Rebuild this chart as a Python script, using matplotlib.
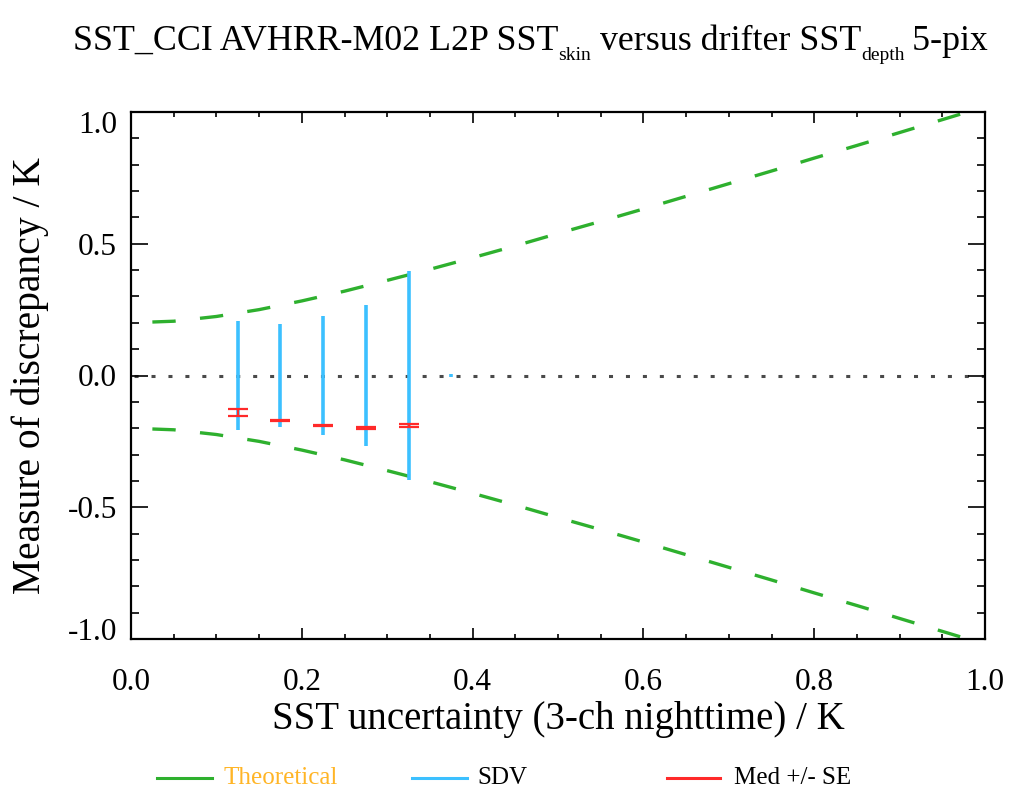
import numpy as np
import matplotlib
matplotlib.use("Agg")
import matplotlib.pyplot as plt
from matplotlib.lines import Line2D
from matplotlib.ticker import MultipleLocator, FixedLocator, FixedFormatter

plt.rcParams['font.family'] = ['Liberation Serif', 'DejaVu Serif']
plt.rcParams['lines.scale_dashes'] = False

# ---- data ----
theory_x = [0.00, 0.05, 0.10, 0.15, 0.20, 0.25, 0.30, 0.35, 0.40, 0.45, 0.50,
            0.55, 0.60, 0.65, 0.70, 0.75, 0.80, 0.85, 0.90, 0.95, 1.00]
theory_y = [0.200, 0.206, 0.224, 0.250, 0.283, 0.320, 0.361, 0.403, 0.447, 0.492, 0.539,
            0.585, 0.632, 0.680, 0.728, 0.776, 0.825, 0.873, 0.922, 0.971, 1.020]
unc_bins = [0.125, 0.175, 0.225, 0.275, 0.325, 0.375]
sdv = [0.208, 0.195, 0.225, 0.268, 0.398, 0.004]
med = [-0.141, -0.170, -0.190, -0.200, -0.190, np.nan]
se = [0.013, 0.003, 0.003, 0.003, 0.005, np.nan]

xticks = [0.0, 0.2, 0.4, 0.6, 0.8, 1.0]
xticklabels = ['0.0', '0.2', '0.4', '0.6', '0.8', '1.0']
yticks = [-1.0, -0.5, 0.0, 0.5, 1.0]
yticklabels = ['', '-0.5', '0.0', '0.5', '']

GREEN = '#2eb02e'
BLUE = '#3cc0ff'
RED = '#ff2a2a'
ORANGE = '#ffb526'

W, H = 1009, 787
fig = plt.figure(figsize=(W / 100, H / 100), dpi=100)
L, R, T, B = 131, 985, 112, 639
ax = fig.add_axes([L / W, 1 - B / H, (R - L) / W, (B - T) / H])
ax.set_xlim(0, 1)
ax.set_ylim(-1, 1)

ty = np.array(theory_y)
dash = (19, (16.8, 17.6))
ax.plot(theory_x, ty, color=GREEN, lw=2.4, linestyle=dash, zorder=2)
ax.plot(theory_x, -ty, color=GREEN, lw=2.4, linestyle=dash, zorder=2)

ax.axhline(0, color='#4a4a4a', lw=2.2, linestyle=(10, (2.9, 9.3)), zorder=1)

sd = np.array(sdv)
ax.vlines(unc_bins, -sd, sd, colors=BLUE, lw=2.6, zorder=3)
ax.errorbar(unc_bins, med, yerr=se, fmt='none', ecolor=RED, elinewidth=1.5,
            capsize=7, capthick=1.6, zorder=4)

# ticks
ax.xaxis.set_major_locator(FixedLocator(xticks))
ax.xaxis.set_major_formatter(FixedFormatter(xticklabels))
ax.xaxis.set_minor_locator(MultipleLocator(0.05))
ax.yaxis.set_major_locator(FixedLocator(yticks))
ax.yaxis.set_major_formatter(FixedFormatter(yticklabels))
ax.yaxis.set_minor_locator(MultipleLocator(0.1))
ax.tick_params(axis='both', which='both', direction='in', top=True, right=True,
               width=1.2, color='black')
ax.tick_params(axis='x', which='major', length=7.6, pad=21, labelsize=22.5)
ax.tick_params(axis='x', which='minor', length=3.6)
ax.tick_params(axis='y', which='major', length=12.2, pad=10, labelsize=22.5)
ax.tick_params(axis='y', which='minor', length=6.1)
for s in ax.spines.values():
    s.set_linewidth(1.6)

# end labels of y axis (IDL places them inside the range)
ax.annotate('1.0', xy=(0, 1.0), xycoords=('axes fraction', 'data'),
            xytext=(-10, -9.5), textcoords='offset points', ha='right', va='center',
            fontsize=22.5)
ax.annotate('-1.0', xy=(0, -1.0), xycoords=('axes fraction', 'data'),
            xytext=(-10, 4.5), textcoords='offset points', ha='right', va='center',
            fontsize=22.5)

ax.set_xlabel('SST uncertainty (3-ch nighttime) / K', fontsize=28, va='center')
ax.xaxis.set_label_coords(0.5, (B - 720) / (B - T))
ax.set_ylabel('Measure of discrepancy / K', fontsize=28.5, va='center')
ax.yaxis.set_label_coords((30 - L) / (R - L), 0.5)

# title built from pieces (subscripts lowered)
main_fs = 25.8
sub_fs = 14
pieces = [('SST_CCI AVHRR-M02 L2P SST', main_fs, 0),
          ('skin', sub_fs, -10),
          (' versus drifter SST', main_fs, 0),
          ('depth', sub_fs, -10),
          ('\u2009' + '5-pix', main_fs, 0)]
renderer = fig.canvas.get_renderer()
base_y = 1 - 50 / H
texts = []
widths = []
for s, fs, dy in pieces:
    t = fig.text(0, base_y + dy / H, s, fontsize=fs, ha='left', va='baseline')
    bb = t.get_window_extent(renderer=renderer)
    texts.append(t)
    widths.append(bb.width)
total = sum(widths)
x0 = 530 - total / 2
for t, w in zip(texts, widths):
    t.set_x(x0 / W)
    x0 += w

# legend
ly = 1 - 778 / H
for (x1, x2), col, tx, lab, tcol in [((157, 212), GREEN, 223, 'Theoretical', ORANGE),
                                     ((412, 467), BLUE, 477, 'SDV', 'black'),
                                     ((667, 720), RED, 734, 'Med +/- SE', 'black')]:
    fig.add_artist(Line2D([x1 / W, x2 / W], [ly, ly], transform=fig.transFigure,
                          color=col, lw=2.2))
    fig.text(tx / W, ly, lab, fontsize=18, color=tcol, ha='left', va='center')

fig.savefig('out.png', dpi=100)
